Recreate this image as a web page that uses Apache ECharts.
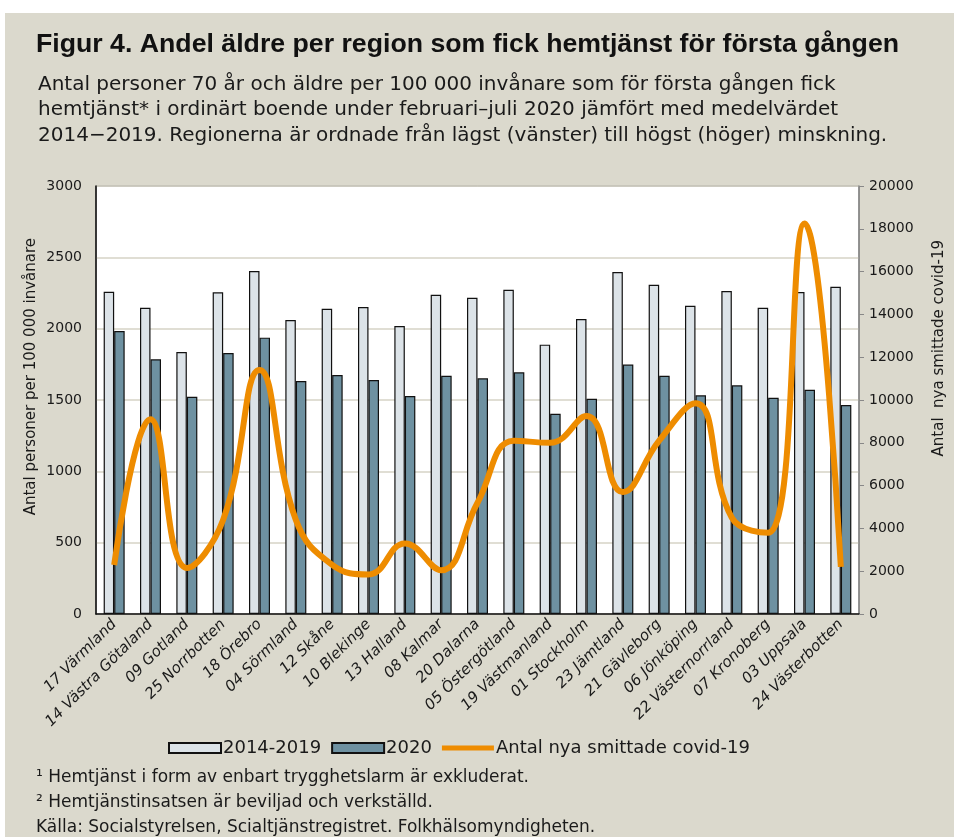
<!DOCTYPE html>
<html>
<head>
<meta charset="utf-8">
<script src="https://cdn.jsdelivr.net/npm/echarts@6/dist/echarts.min.js"></script>
<style>
  html, body { margin: 0; padding: 0; background: #fff; }
  #chart { position: absolute; left: 5px; top: 13px; width: 949px; height: 824px; }
</style>
</head>
<body>
<div id="chart"></div>
<script>
const regions = [
  '17 Värmland', '14 Västra Götaland', '09 Gotland', '25 Norrbotten', '18 Örebro',
  '04 Sörmland', '12 Skåne', '10 Blekinge', '13 Halland', '08 Kalmar', '20 Dalarna',
  '05 Östergötland', '19 Västmanland', '01 Stockholm', '23 Jämtland', '21 Gävleborg',
  '06 Jönköping', '22 Västernorrland', '07 Kronoberg', '03 Uppsala', '24 Västerbotten'
]
const avg2014to2019 = [2259, 2147, 1836, 2255, 2404, 2061, 2140, 2152, 2019, 2238, 2217,
  2273, 1888, 2068, 2397, 2308, 2161, 2264, 2147, 2257, 2294]
const values2020 = [1984, 1785, 1523, 1829, 1937, 1633, 1675, 1640, 1528, 1670, 1652,
  1694, 1404, 1509, 1748, 1670, 1533, 1603, 1516, 1572, 1465]
const covidCases = [2290, 9100, 2150, 4400, 11400, 4400, 2300, 1850, 3300, 2050, 5200,
  8100, 8000, 9250, 5700, 8100, 9850, 4500, 3800, 18250, 2200]
const leftTicks = { min: 0, max: 3000, interval: 500 }
const rightTicks = { min: 0, max: 20000, interval: 2000 }

const font = 'DejaVu Sans'
const textColor = '#1a1a1a'
const plain = v => String(v)

const chart = echarts.init(document.getElementById('chart'))

chart.setOption({
  backgroundColor: '#dbd9cd',
  textStyle: { fontFamily: font, color: textColor },
  title: [
    {
      text: 'Figur 4. Andel äldre per region som fick hemtjänst för första gången',
      left: 26, top: 13,
      textStyle: { fontFamily: 'Liberation Sans', fontWeight: 'bold', fontSize: 26.7, color: '#111' }
    },
    {
      text: 'Antal personer 70 år och äldre per 100 000 invånare som för första gången fick\n' +
        'hemtjänst* i ordinärt boende under februari–juli 2020 jämfört med medelvärdet\n' +
        '2014−2019. Regionerna är ordnade från lägst (vänster) till högst (höger) minskning.',
      left: 28, top: 54,
      textStyle: { fontFamily: font, fontWeight: 'normal', fontSize: 20, lineHeight: 25.5, color: textColor }
    },
    {
      text: '¹ Hemtjänst i form av enbart trygghetslarm är exkluderat.\n' +
        '² Hemtjänstinsatsen är beviljad och verkställd.',
      left: 26, top: 747,
      textStyle: { fontFamily: font, fontWeight: 'normal', fontSize: 17, lineHeight: 25, color: textColor }
    },
    {
      text: 'Källa: Socialstyrelsen, Scialtjänstregistret. Folkhälsomyndigheten.',
      left: 26, top: 801,
      textStyle: { fontFamily: font, fontWeight: 'normal', fontSize: 17, color: textColor }
    }
  ],
  legend: {
    left: 158, top: 721,
    itemWidth: 52, itemHeight: 10, itemGap: 10,
    textStyle: { fontFamily: font, fontSize: 18, color: textColor, padding: [0, 0, 0, -3] },
    data: [
      { name: '2014-2019', icon: 'rect' },
      { name: '2020', icon: 'rect' },
      { name: 'Antal nya smittade covid-19', icon: 'path://M0,0 L60,0 L60,6 L0,6 Z' }
    ]
  },
  grid: {
    left: 91, right: 95, top: 173, bottom: 223,
    show: true, backgroundColor: '#fff', borderColor: '#666', borderWidth: 1
  },
  xAxis: {
    type: 'category',
    data: regions,
    axisLine: { lineStyle: { color: '#111', width: 1.5 } },
    axisTick: { inside: true, length: 4, lineStyle: { color: '#111' } },
    axisLabel: {
      rotate: 45, interval: 0, margin: 8,
      fontFamily: font, fontStyle: 'italic', fontSize: 15, color: textColor
    }
  },
  yAxis: [
    {
      type: 'value', ...leftTicks,
      axisLine: { show: true, lineStyle: { color: '#111', width: 1.5 } },
      axisTick: { show: false },
      axisLabel: { fontFamily: font, fontSize: 14, color: textColor, margin: 14, formatter: plain },
      splitLine: { lineStyle: { color: '#d6d3c6', width: 1.5 } }
    },
    {
      type: 'value', ...rightTicks,
      axisLine: { show: true, lineStyle: { color: '#888', width: 1.5 } },
      axisTick: { show: true, length: 5, lineStyle: { color: '#888' } },
      axisLabel: { fontFamily: font, fontSize: 14, color: textColor, margin: 10, formatter: plain },
      splitLine: { show: false }
    }
  ],
  graphic: [
    {
      type: 'text', left: 19, top: 225, rotation: Math.PI / 2,
      style: { text: 'Antal personer per 100 000 invånare', font: '15px "DejaVu Sans"', fill: textColor }
    },
    {
      type: 'text', left: 927, top: 227, rotation: Math.PI / 2,
      style: { text: 'Antal  nya smittade covid-19', font: '15px "DejaVu Sans"', fill: textColor }
    }
  ],
  series: [
    {
      name: '2014-2019', type: 'bar', data: avg2014to2019,
      barWidth: 10.5, barGap: '0%',
      itemStyle: { color: '#dce3e8', borderColor: '#111', borderWidth: 1.2 }
    },
    {
      name: '2020', type: 'bar', data: values2020,
      barWidth: 10.5, barGap: '0%',
      itemStyle: { color: '#6e91a1', borderColor: '#111', borderWidth: 1.2 }
    },
    {
      name: 'Antal nya smittade covid-19', type: 'line', yAxisIndex: 1, data: covidCases,
      smooth: 0.45, symbol: 'none',
      lineStyle: { color: '#ee8c00', width: 6 },
      itemStyle: { color: '#ee8c00' }
    }
  ]
})
</script>
</body>
</html>
